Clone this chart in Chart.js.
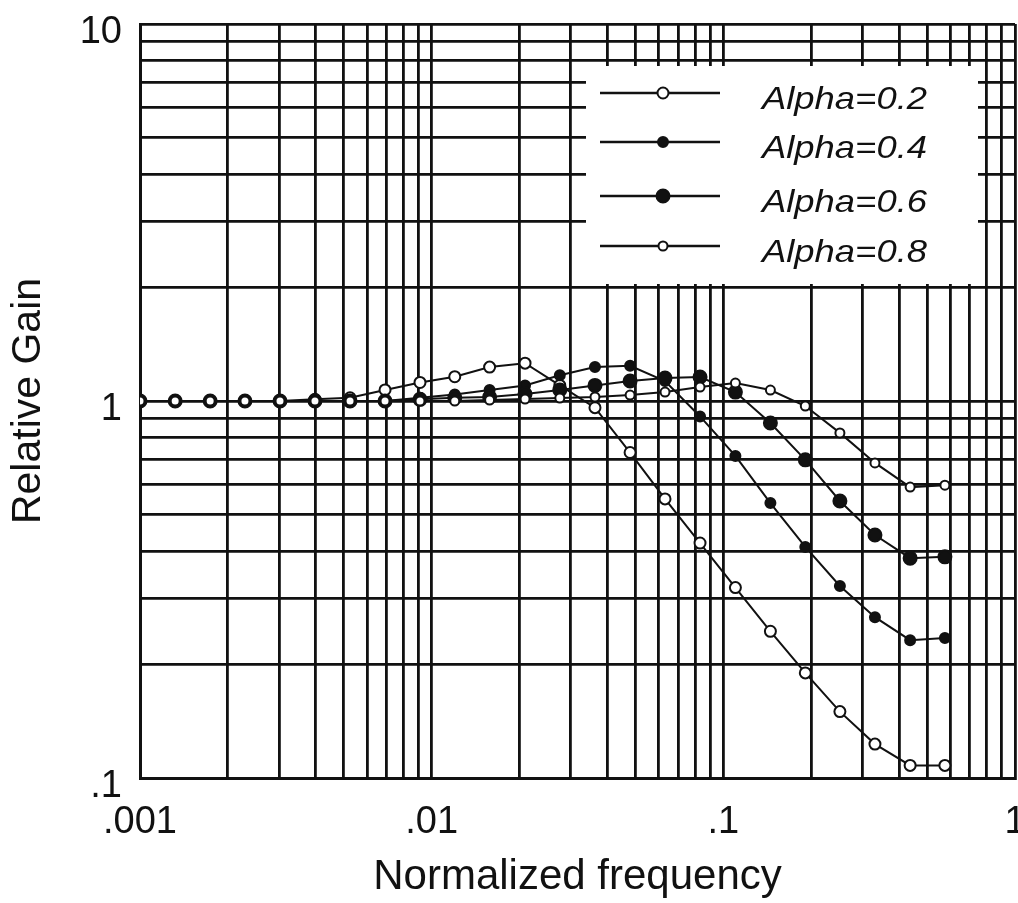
<!DOCTYPE html>
<html>
<head>
<meta charset="utf-8">
<script src="https://cdn.jsdelivr.net/npm/chart.js@4/dist/chart.umd.min.js"></script>
<style>
  html, body { margin: 0; padding: 0; background: #fff; overflow: hidden; }
  canvas { display: block; }
</style>
</head>
<body>
<canvas id="chart1" width="1018" height="903"></canvas>
<script>
// normalized frequency of each sample point
const freqs = [0.001, 0.00132, 0.00174, 0.00229, 0.00302, 0.00398, 0.00525, 0.00692,
  0.00912, 0.0120, 0.0158, 0.0209, 0.0275, 0.0363, 0.0479, 0.0631, 0.0832, 0.110,
  0.145, 0.191, 0.251, 0.331, 0.437, 0.575];

const alpha02 = [1.0, 1.0, 1.0, 1.0, 1.0, 1.01, 1.02, 1.07, 1.12, 1.16, 1.23, 1.26,
  1.10, 0.96, 0.73, 0.55, 0.42, 0.32, 0.245, 0.19, 0.15, 0.123, 0.108, 0.108];
const alpha04 = [1.0, 1.0, 1.0, 1.0, 1.0, 1.0, 1.0, 1.0, 1.02, 1.04, 1.07, 1.10,
  1.17, 1.23, 1.24, 1.13, 0.91, 0.715, 0.536, 0.41, 0.323, 0.267, 0.232, 0.235];
const alpha06 = [1.0, 1.0, 1.0, 1.0, 1.0, 1.0, 1.0, 1.0, 1.01, 1.02, 1.025, 1.044,
  1.07, 1.10, 1.13, 1.15, 1.158, 1.056, 0.874, 0.698, 0.543, 0.441, 0.383, 0.386];
const alpha08 = [1.0, 1.0, 1.0, 1.0, 1.0, 1.0, 1.0, 1.0, 1.0, 1.0, 1.006, 1.012,
  1.018, 1.025, 1.037, 1.056, 1.089, 1.116, 1.069, 0.97, 0.823, 0.685, 0.591, 0.598];

const seriesNames = ['Alpha=0.2', 'Alpha=0.4', 'Alpha=0.6', 'Alpha=0.8'];

const xDecades = [0.001, 0.01, 0.1, 1];
const xTickLabels = ['.001', '.01', '.1', '1'];
const yDecades = [0.1, 1, 10];
const yTickLabels = ['.1', '1', '10'];

const FONT = '"Liberation Sans", Arial, Helvetica, sans-serif';
const INK = '#111';
const TICK_SIZE = 38;
const X_TICK_PAD = 22;

function pts(arr) {
  return freqs.map((f, i) => ({ x: f, y: arr[i] }));
}

function decadeLabel(v, decades, labels) {
  for (let i = 0; i < decades.length; i++) {
    if (Math.abs(Math.log10(v) - Math.log10(decades[i])) < 1e-6) return labels[i];
  }
  return '';
}

// keep only 1..9 x 10^n ticks (drop the 1.5 ones chart.js adds)
function keepIntegerTicks(scale) {
  scale.ticks = scale.ticks.filter(t => {
    const m = t.value / Math.pow(10, Math.floor(Math.log10(t.value) + 1e-9));
    return Math.abs(m - Math.round(m)) < 1e-6;
  });
}

// marker look per series: [radius, filled]
const markers = [[5.5, false], [5, true], [6.5, true], [4.5, false]];

// last x label sits on the page edge in the scan, so it is drawn here
// (otherwise chart.js shrinks the plot to make room for it)
const lastXLabel = {
  id: 'lastXLabel',
  afterDraw(chart) {
    const ctx = chart.ctx;
    const sx = chart.scales.x;
    const last = xDecades.length - 1;
    ctx.save();
    ctx.fillStyle = INK;
    ctx.font = TICK_SIZE + 'px ' + FONT;
    ctx.textAlign = 'center';
    ctx.textBaseline = 'middle';
    ctx.fillText(xTickLabels[last], sx.getPixelForValue(xDecades[last]),
      sx.top + X_TICK_PAD + TICK_SIZE * 1.2 / 2);
    ctx.restore();
  }
};

const legendBox = {
  id: 'legendBox',
  afterDraw(chart) {
    const ctx = chart.ctx;
    ctx.save();
    ctx.fillStyle = '#fff';
    ctx.fillRect(586, 66, 392, 218);
    const rows = [93, 142, 196, 246];
    rows.forEach((y, i) => {
      ctx.strokeStyle = INK;
      ctx.lineWidth = 2.4;
      ctx.beginPath();
      ctx.moveTo(600, y);
      ctx.lineTo(720, y);
      ctx.stroke();
      const [r, filled] = markers[i];
      ctx.beginPath();
      ctx.arc(663, y, r, 0, Math.PI * 2);
      ctx.fillStyle = filled ? INK : '#fff';
      ctx.fill();
      ctx.lineWidth = 2;
      ctx.stroke();

      ctx.fillStyle = INK;
      ctx.font = 'italic 32px ' + FONT;
      ctx.textBaseline = 'alphabetic';
      const w = ctx.measureText(seriesNames[i]).width;
      ctx.save();
      ctx.translate(762, y + 16);
      ctx.scale(165 / w, 1);
      ctx.fillText(seriesNames[i], 0, 0);
      ctx.restore();
    });
    ctx.restore();
  }
};

function ds(label, arr, idx) {
  const [r, filled] = markers[idx];
  return {
    label: label,
    data: pts(arr),
    borderColor: INK,
    borderWidth: 2,
    pointRadius: r,
    pointHoverRadius: r,
    pointBorderWidth: 2,
    pointBackgroundColor: filled ? INK : '#fff',
    pointBorderColor: INK,
    tension: 0,
    fill: false
  };
}

const ctx1 = document.getElementById('chart1').getContext('2d');
const chart1 = new Chart(ctx1, {
  type: 'line',
  data: {
    datasets: [
      ds(seriesNames[3], alpha08, 3),
      ds(seriesNames[2], alpha06, 2),
      ds(seriesNames[1], alpha04, 1),
      ds(seriesNames[0], alpha02, 0)
    ]
  },
  options: {
    responsive: false,
    animation: false,
    devicePixelRatio: 1,
    layout: { autoPadding: false, padding: { top: 24, right: 3, left: 0, bottom: 0 } },
    plugins: {
      legend: { display: false },
      tooltip: { enabled: false }
    },
    scales: {
      x: {
        type: 'logarithmic',
        min: 0.001,
        max: 1,
        afterBuildTicks: keepIntegerTicks,
        afterFit(scale) {
          scale.height = 125;
          scale.paddingLeft = 0;
          scale.paddingRight = 0;
        },
        grid: { color: INK, lineWidth: 2.8, drawTicks: false },
        border: { color: INK, width: 3 },
        ticks: {
          autoSkip: false,
          maxRotation: 0,
          padding: X_TICK_PAD,
          color: INK,
          font: { family: FONT, size: TICK_SIZE },
          callback: v => (v === xDecades[xDecades.length - 1] ? '' : decadeLabel(v, xDecades, xTickLabels))
        },
        title: {
          display: true,
          text: 'Normalized frequency',
          color: INK,
          font: { family: FONT, size: 42 },
          padding: { top: 0, bottom: 0 }
        }
      },
      y: {
        type: 'logarithmic',
        min: 0.1,
        max: 10,
        afterBuildTicks: keepIntegerTicks,
        afterFit(scale) {
          scale.width = 140;
          scale.paddingTop = 0;
          scale.paddingBottom = 0;
        },
        grid: { color: INK, lineWidth: 2.8, drawTicks: false },
        border: { color: INK, width: 3 },
        ticks: {
          autoSkip: false,
          padding: 18,
          labelOffset: 9,
          color: INK,
          font: { family: FONT, size: TICK_SIZE },
          callback: v => decadeLabel(v, yDecades, yTickLabels)
        },
        title: {
          display: true,
          text: 'Relative Gain',
          color: INK,
          font: { family: FONT, size: 41 },
          padding: { top: 4, bottom: 0 }
        }
      }
    }
  },
  plugins: [legendBox, lastXLabel]
});
</script>
</body>
</html>
